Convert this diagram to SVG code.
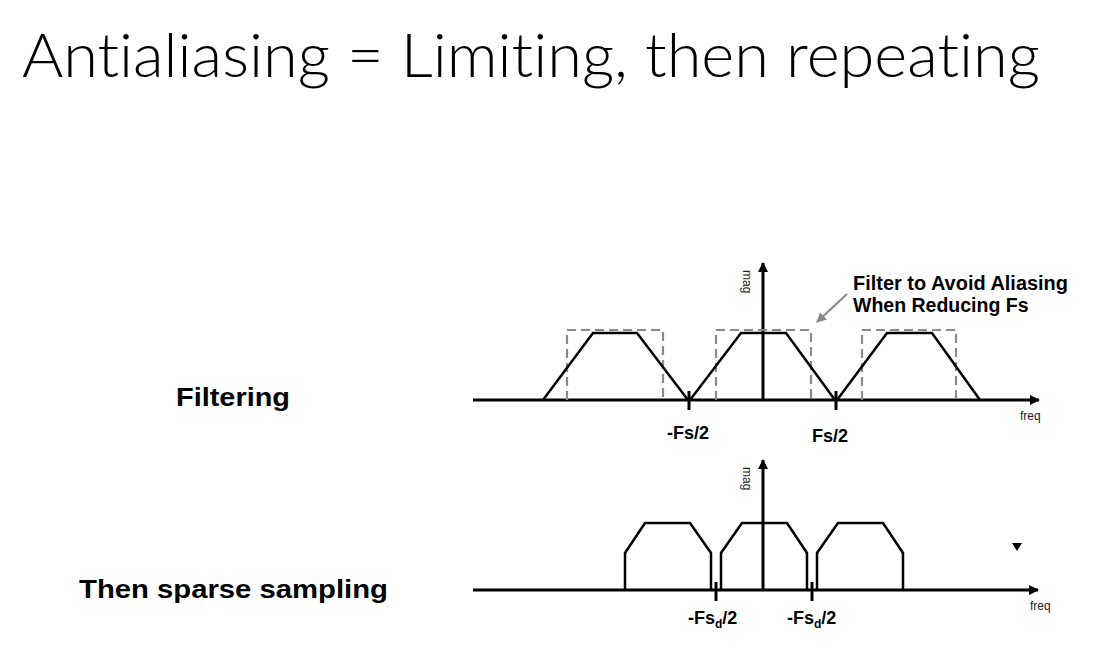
<svg xmlns="http://www.w3.org/2000/svg" width="1118" height="666" viewBox="0 0 1118 666">
<defs>
<style>
.title{font-family:"Lato","Liberation Sans",sans-serif;font-weight:300;font-size:62px;fill:#000;font-variant-ligatures:none;font-feature-settings:"liga" 0}
.lbl{font-family:"Liberation Sans",Arial,sans-serif;font-weight:bold;fill:#000}
.ax{stroke:#000;stroke-width:3;fill:none}
.sig{stroke:#000;stroke-width:2.5;fill:none;stroke-linejoin:miter}
.dash{stroke:#8a8a8a;stroke-width:2.2;fill:none;stroke-dasharray:9 5}
.small{font-family:"Liberation Sans",Arial,sans-serif;font-size:12px;fill:#222}
.tick{stroke:#000;stroke-width:3}
</style>
<marker id="ah" viewBox="0 0 10 10" refX="9" refY="5" markerWidth="10" markerHeight="10" markerUnits="userSpaceOnUse" orient="auto">
<path d="M0,0 L10,5 L0,10 z" fill="#000"/>
</marker>
<marker id="ahg" viewBox="0 0 10 10" refX="9" refY="5" markerWidth="10" markerHeight="10" markerUnits="userSpaceOnUse" orient="auto">
<path d="M0,0 L10,5 L0,10 z" fill="#8a8a8a"/>
</marker>
</defs>
<rect width="1118" height="666" fill="#fff"/>
<g id="title"><text class="title" x="22" y="77" textLength="1018" lengthAdjust="spacingAndGlyphs">Antialiasing = Limiting, then repeating</text></g>
<g id="label-filtering"><text class="lbl" x="176" y="406" font-size="26" textLength="114" lengthAdjust="spacingAndGlyphs">Filtering</text></g>
<g id="label-sparse"><text class="lbl" x="79" y="598" font-size="26" textLength="309" lengthAdjust="spacingAndGlyphs">Then sparse sampling</text></g>

<g id="top-plot">
<g id="top-axes">
<line class="ax" x1="473" y1="400" x2="1039" y2="400" marker-end="url(#ah)"/>
<line class="ax" x1="763" y1="400" x2="763" y2="263" marker-end="url(#ah)"/>
<line class="tick" x1="689" y1="391" x2="689" y2="410"/>
<line class="tick" x1="836" y1="391" x2="836" y2="410"/>
</g>
<g id="top-filters">
<path class="dash" d="M567,400 V330 H663 V400"/>
<path class="dash" d="M716,400 V330 H811 V400"/>
<path class="dash" d="M862,400 V330 H956 V400"/>
</g>
<g id="top-spectra">
<path class="sig" d="M543,400 L593,333 L637,333 L688,400"/>
<path class="sig" d="M690,400 L741,333 L786,333 L835,400"/>
<path class="sig" d="M837,400 L887,333 L932,333 L980,400"/>
</g>
<text class="small" transform="translate(743,270) rotate(90)">mag</text>
<text class="small" x="1020" y="420">freq</text>
<text class="lbl" x="667" y="439" font-size="18">-Fs/2</text>
<text class="lbl" x="812" y="442" font-size="18">Fs/2</text>
<g id="annotation">
<text class="lbl" x="853" y="290" font-size="19.5" textLength="215" lengthAdjust="spacingAndGlyphs">Filter to Avoid Aliasing</text>
<text class="lbl" x="853" y="312" font-size="19.5">When Reducing Fs</text>
</g>
</g>

<g id="connectors">
<line x1="847" y1="294" x2="817" y2="322" stroke="#8a8a8a" stroke-width="2.2" marker-end="url(#ahg)"/>
</g>

<g id="bottom-plot">
<g id="bottom-axes">
<line class="ax" x1="473" y1="590" x2="1038" y2="590" marker-end="url(#ah)"/>
<line class="ax" x1="763" y1="590" x2="763" y2="460" marker-end="url(#ah)"/>
<line class="tick" x1="716" y1="582" x2="716" y2="601"/>
<line class="tick" x1="812" y1="582" x2="812" y2="601"/>
</g>
<g id="bottom-spectra">
<path class="sig" d="M625,590 V553 L645,523 H690 L711,553 V590"/>
<path class="sig" d="M721,590 V553 L742,523 H787 L807,553 V590"/>
<path class="sig" d="M817,590 V553 L838,523 H883 L903,553 V590"/>
</g>
<text class="small" transform="translate(743,467) rotate(90)">mag</text>
<text class="small" x="1030" y="610">freq</text>
<text class="lbl" x="688" y="624" font-size="18">-Fs<tspan font-size="12" dy="4">d</tspan><tspan dy="-4">/2</tspan></text>
<text class="lbl" x="787" y="624" font-size="18">-Fs<tspan font-size="12" dy="4">d</tspan><tspan dy="-4">/2</tspan></text>
<path d="M1012,543 L1022,543 L1017,551 z" fill="#000"/>
</g>
</svg>
